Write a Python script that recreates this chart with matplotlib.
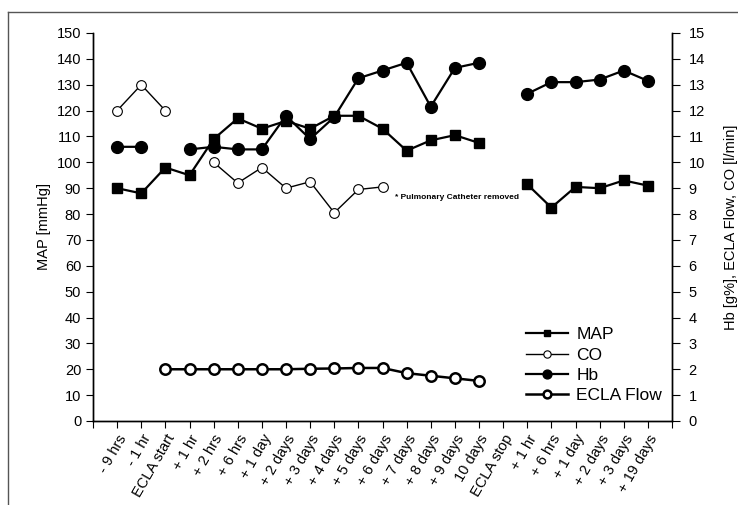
import numpy as np
import matplotlib
matplotlib.use('Agg')
import matplotlib.pyplot as plt
from matplotlib.lines import Line2D

plt.rcParams['font.family'] = ['Liberation Sans', 'DejaVu Sans']

nan = np.nan

time_labels = ['- 9 hrs', '- 1 hr', 'ECLA start', '+ 1 hr', '+ 2 hrs', '+ 6 hrs',
               '+ 1 day', '+ 2 days', '+ 3 days', '+ 4 days', '+ 5 days', '+ 6 days',
               '+ 7 days', '+ 8 days', '+ 9 days', '10 days', 'ECLA stop', '+ 1 hr',
               '+ 6 hrs', '+ 1 day', '+ 2 days', '+ 3 days', '+ 19 days']

# MAP [mmHg] on left axis
map_vals = [90, 88, 98, 95, 109, 117, 113, 116, 113, 118, 118, 113,
            104.5, 108.5, 110.5, 107.5, nan, 91.5, 82.5, 90.5, 90, 93, 91]
# CO [l/min], Hb [g%], ECLA Flow [l/min] on right axis
co_vals = [12.0, 13.0, 12.0, nan, 10.0, 9.2, 9.8, 9.0, 9.25, 8.05, 8.95, 9.05,
           nan, nan, nan, nan, nan, nan, nan, nan, nan, nan, nan]
hb_vals = [10.6, 10.6, nan, 10.5, 10.6, 10.5, 10.5, 11.8, 10.9, 11.75, 13.25, 13.55,
           13.85, 12.15, 13.65, 13.85, nan, 12.65, 13.1, 13.1, 13.2, 13.55, 13.15]
flow_vals = [nan, nan, 2.0, 2.0, 2.0, 2.0, 2.0, 2.0, 2.02, 2.03, 2.05, 2.05,
             1.85, 1.75, 1.65, 1.55, nan, nan, nan, nan, nan, nan, nan]

x = np.arange(len(time_labels))

fig = plt.figure(figsize=(7.38, 5.05), dpi=100)
W, H = 738, 505
ax = fig.add_axes([93 / W, 1 - 421 / H, (672 - 93) / W, (421 - 33) / H])
ax2 = ax.twinx()

h_map, = ax.plot(x, map_vals, color='black', lw=1.6, marker='s', ms=6.5,
                 mfc='black', mec='black', label='MAP', zorder=3)
h_co, = ax2.plot(x, co_vals, color='black', lw=1.0, marker='o', ms=7,
                 mfc='white', mec='black', mew=0.8, label='CO', zorder=3)
h_hb, = ax2.plot(x, hb_vals, color='black', lw=1.6, marker='o', ms=8.5,
                 mfc='black', mec='black', label='Hb', zorder=4)
h_fl, = ax2.plot(x, flow_vals, color='black', lw=1.8, marker='o', ms=7.5,
                 mfc='white', mec='black', mew=1.8, label='ECLA Flow', zorder=3)

ax.set_xlim(-1, 23)
ax.set_ylim(0, 150)
ax2.set_ylim(0, 15)
ax.set_yticks(np.arange(0, 151, 10))
ax2.set_yticks(np.arange(0, 16, 1))
ax.set_xticks(np.arange(-1, 24))
ax.set_xticklabels([''] + time_labels + [''], rotation=60, ha='right',
                   rotation_mode='anchor', fontsize=10)
ax.tick_params(axis='both', direction='out', length=5, labelsize=10.5)
ax2.tick_params(axis='y', direction='out', length=6, pad=6, labelsize=10.5)
ax.tick_params(axis='x', pad=3)

for a in (ax, ax2):
    a.spines['top'].set_visible(False)
    for s in a.spines.values():
        s.set_linewidth(1.0)

ax.set_ylabel('MAP [mmHg]', fontsize=10.5, labelpad=4)
ax2.set_ylabel('Hb [g%], ECLA Flow, CO [l/min]', fontsize=10.5, labelpad=14)

ax.text(11.5, 86.5, '* Pulmonary Catheter removed', fontsize=6, fontweight='bold',
        va='center', ha='left')

leg = ax2.legend(handles=[h_map, h_co, h_hb, h_fl], loc='lower right',
                 bbox_to_anchor=(1.01, 0.005), frameon=False, fontsize=12.5,
                 markerscale=0.75, handlelength=2.4, labelspacing=0.3,
                 handletextpad=0.5)

# outer frame of the scanned figure
fig.add_artist(Line2D([8 / W, 1], [1 - 12 / H, 1 - 12 / H], color='#555555', lw=1.0))
fig.add_artist(Line2D([8 / W, 8 / W], [0, 1 - 12 / H], color='#555555', lw=1.0))

fig.savefig('out.png', dpi=100)
